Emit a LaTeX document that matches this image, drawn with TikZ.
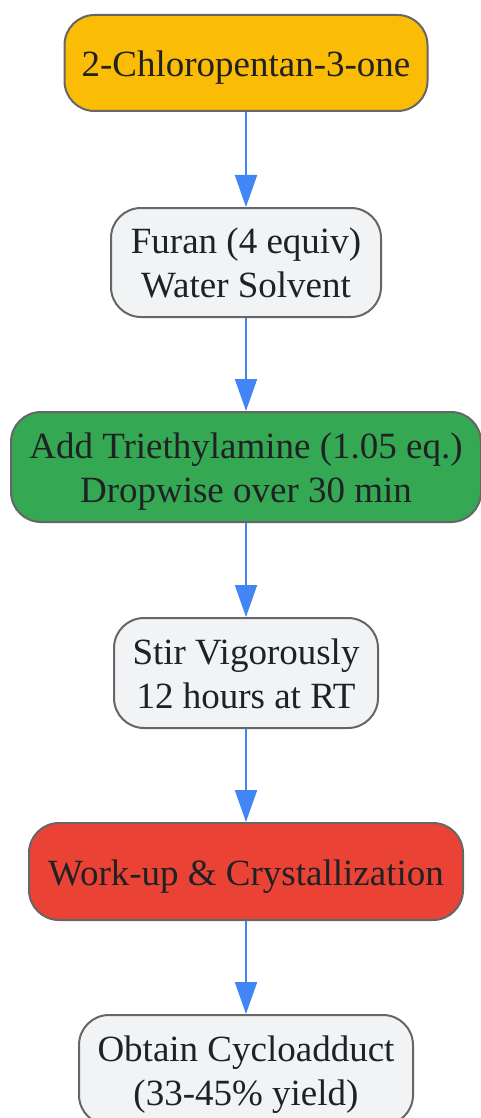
\documentclass[tikz,border=0pt]{standalone}
\usepackage{fontspec}
\setmainfont{Liberation Serif}
\usetikzlibrary{arrows.meta}
\definecolor{gyellow}{HTML}{FBBC05}
\definecolor{ggreen}{HTML}{34A853}
\definecolor{gred}{HTML}{EA4335}
\definecolor{ggray}{HTML}{F1F3F4}
\definecolor{gblue}{HTML}{4285F4}
\definecolor{gborder}{HTML}{666666}
\definecolor{gtext}{HTML}{202124}
\tikzset{
  stepbox/.style={draw=gborder, line width=2pt, rounded corners=30pt,
    align=center, text=gtext, inner sep=0pt,
    font=\fontsize{37}{44}\selectfont},
  oneline/.style={text height=33pt, text depth=5pt},
  twoline/.style={text height=77pt, text depth=7pt},
  flow/.style={draw=gblue, line width=2pt,
    -{Triangle[length=32pt,width=22pt]}},
}
\begin{document}
\begin{tikzpicture}[x=1pt,y=-1pt]
\useasboundingbox (0,0) rectangle (481,1118);
\node[stepbox, oneline, fill=gyellow, minimum width=363pt, minimum height=96pt] (n1) at (246,63) {2-Chloropentan-3-one};
\node[stepbox, twoline, fill=ggray, minimum width=270pt, minimum height=109pt] (n2) at (246,262.5) {Furan (4 equiv)\\Water Solvent};
\node[stepbox, twoline, fill=ggreen, minimum width=470pt, minimum height=110pt] (n3) at (246,467) {Add Triethylamine (1.05 eq.)\\Dropwise over 30 min};
\node[stepbox, twoline, fill=ggray, minimum width=264pt, minimum height=110pt] (n4) at (246,673) {Stir Vigorously\\12 hours at RT};
\node[stepbox, oneline, fill=gred, minimum width=434pt, minimum height=97pt] (n5) at (246,871.5) {Work-up \& Crystallization};
\node[stepbox, twoline, fill=ggray, minimum width=334pt, minimum height=110pt] (n6) at (246,1070) {Obtain Cycloadduct\\(33-45\% yield)};
\draw[flow] (n1.south) -- (n2.north);
\draw[flow] (n2.south) -- (n3.north);
\draw[flow] (n3.south) -- (n4.north);
\draw[flow] (n4.south) -- (n5.north);
\draw[flow] (n5.south) -- (n6.north);
\end{tikzpicture}
\end{document}
